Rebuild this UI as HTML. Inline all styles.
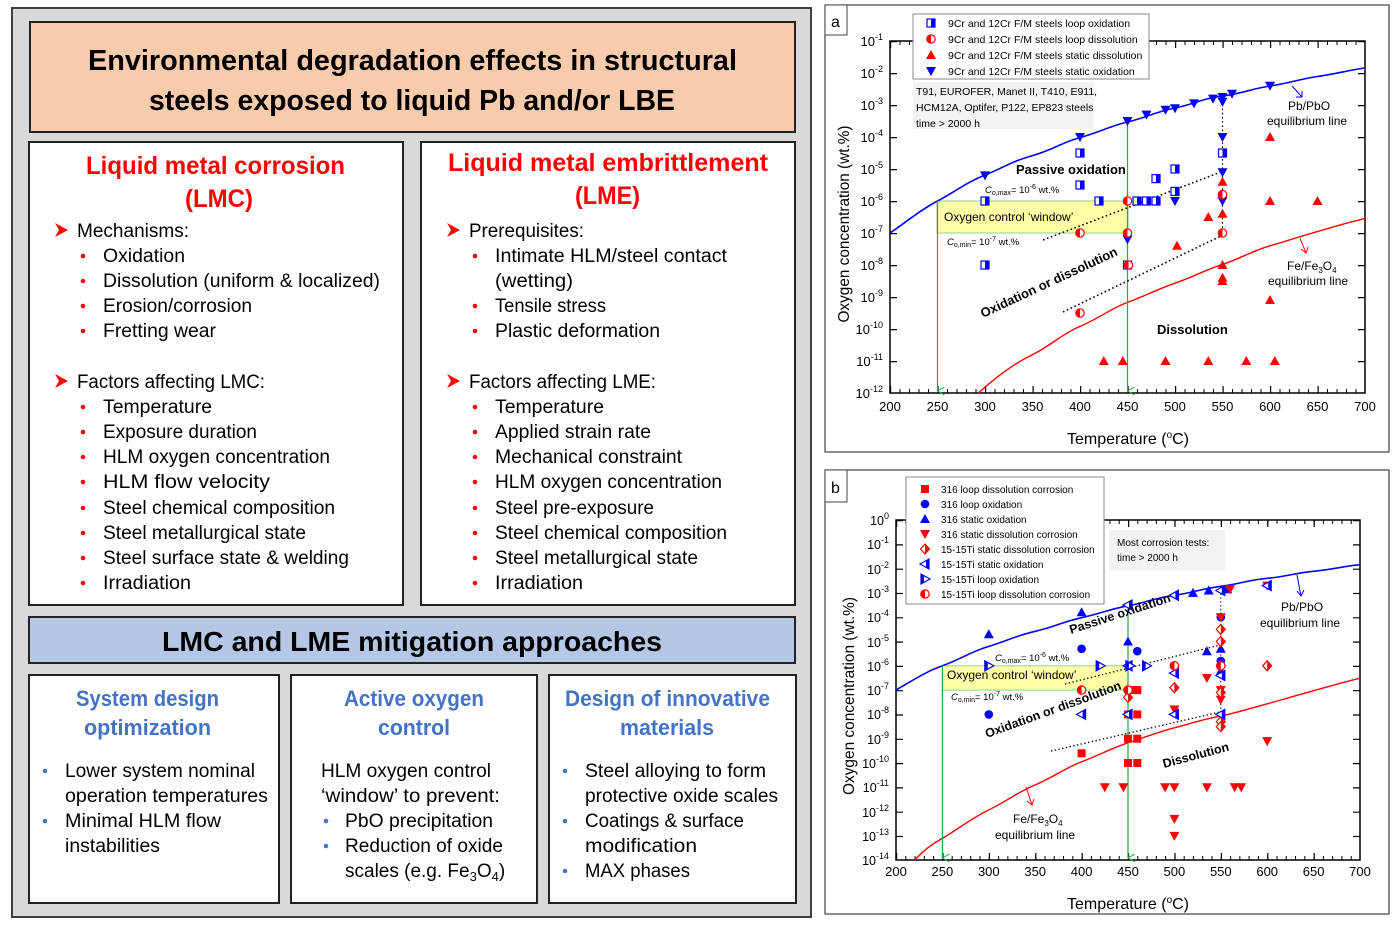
<!DOCTYPE html>
<html><head><meta charset="utf-8"><style>
html,body{margin:0;padding:0;background:#fff;}
svg{display:block;font-family:"Liberation Sans",sans-serif;}
</style></head><body>
<svg width="1393" height="927" viewBox="0 0 1393 927" xmlns="http://www.w3.org/2000/svg">
<defs>
<polygon id="tdnB" points="-5,-4 5,-4 0,5" fill="#0000ff"/>
<polygon id="tupR" points="-5,4 5,4 0,-5" fill="#ff0000"/>
<polygon id="tupB" points="-5,4 5,4 0,-5" fill="#0000ff"/>
<polygon id="tdnR" points="-5,-4 5,-4 0,5" fill="#ff0000"/>
<g id="hsq"><rect x="-4" y="-4" width="8" height="8" fill="#fff" stroke="#0000ff" stroke-width="1.2"/><rect x="0" y="-4" width="4" height="8" fill="#0000ff"/></g>
<g id="hci"><circle r="4.2" fill="#fff" stroke="#ff0000" stroke-width="1.2"/><path d="M0,-4.2 A4.2,4.2 0 0 0 0,4.2 Z" fill="#ff0000"/></g>
<circle id="ciB" r="4.3" fill="#0000ff"/>
<rect id="sqR" x="-4" y="-4" width="8" height="8" fill="#ff0000"/>
<g id="dia"><polygon points="0,-5 4.5,0 0,5 -4.5,0" fill="#fff" stroke="#ff0000" stroke-width="1.2"/><polygon points="0,-5 4.5,0 0,5" fill="#ff0000"/></g>
<g id="ltri"><polygon points="-5,0 4,-5 4,5" fill="#fff" stroke="#0000ff" stroke-width="1.2"/><polygon points="1,-3.3 4,-5 4,5 1,3.3" fill="#0000ff"/></g>
<g id="rtri"><polygon points="5,0 -4,-5 -4,5" fill="#fff" stroke="#0000ff" stroke-width="1.2"/><polygon points="-1,-3.3 -4,-5 -4,5 -1,3.3" fill="#0000ff"/></g>
<marker id="arG" markerWidth="8" markerHeight="8" refX="4" refY="7" orient="auto-start-reverse" markerUnits="userSpaceOnUse"><path d="M0,0 L4,7 L8,0" fill="none" stroke="#22aa44" stroke-width="1"/></marker>
</defs>

<!-- LEFT PANEL -->
<rect x="12" y="8" width="799" height="909" fill="#d9d9d9" stroke="#404040" stroke-width="2"/>
<rect x="30" y="22" width="765" height="110" fill="#f8cbad" stroke="#222" stroke-width="2"/>
<g font-weight="bold" font-size="29" fill="#000" text-anchor="start">
<text x="88" y="70" textLength="649" lengthAdjust="spacingAndGlyphs">Environmental degradation effects in structural</text>
<text x="149" y="110" textLength="526" lengthAdjust="spacingAndGlyphs">steels exposed to liquid Pb and/or LBE</text>
</g>
<rect x="29" y="142" width="374" height="463" fill="#fff" stroke="#222" stroke-width="2"/>
<rect x="421" y="142" width="374" height="463" fill="#fff" stroke="#222" stroke-width="2"/>
<g font-weight="bold" font-size="25" fill="#ff0000">
<text x="86" y="174" textLength="259" lengthAdjust="spacingAndGlyphs">Liquid metal corrosion</text>
<text x="185" y="207" textLength="68" lengthAdjust="spacingAndGlyphs">(LMC)</text>
<text x="448" y="171" textLength="320" lengthAdjust="spacingAndGlyphs">Liquid metal embrittlement</text>
<text x="575" y="204" textLength="65" lengthAdjust="spacingAndGlyphs">(LME)</text>
</g>
<g font-size="19" fill="#000">
<text x="77" y="237" textLength="112" lengthAdjust="spacingAndGlyphs">Mechanisms:</text>
<text x="103" y="262" textLength="82" lengthAdjust="spacingAndGlyphs">Oxidation</text>
<text x="103" y="287" textLength="277" lengthAdjust="spacingAndGlyphs">Dissolution (uniform &amp; localized)</text>
<text x="103" y="312" textLength="149" lengthAdjust="spacingAndGlyphs">Erosion/corrosion</text>
<text x="103" y="337" textLength="113" lengthAdjust="spacingAndGlyphs">Fretting wear</text>
<text x="77" y="388" textLength="188" lengthAdjust="spacingAndGlyphs">Factors affecting LMC:</text>
<text x="103" y="413" textLength="109" lengthAdjust="spacingAndGlyphs">Temperature</text>
<text x="103" y="438" textLength="154" lengthAdjust="spacingAndGlyphs">Exposure duration</text>
<text x="103" y="463" textLength="227" lengthAdjust="spacingAndGlyphs">HLM oxygen concentration</text>
<text x="103" y="488" textLength="167" lengthAdjust="spacingAndGlyphs">HLM flow velocity</text>
<text x="103" y="514" textLength="232" lengthAdjust="spacingAndGlyphs">Steel chemical composition</text>
<text x="103" y="539" textLength="203" lengthAdjust="spacingAndGlyphs">Steel metallurgical state</text>
<text x="103" y="564" textLength="246" lengthAdjust="spacingAndGlyphs">Steel surface state &amp; welding</text>
<text x="103" y="589" textLength="88" lengthAdjust="spacingAndGlyphs">Irradiation</text>

<text x="469" y="237" textLength="115" lengthAdjust="spacingAndGlyphs">Prerequisites:</text>
<text x="495" y="262" textLength="232" lengthAdjust="spacingAndGlyphs">Intimate HLM/steel contact</text>
<text x="495" y="287" textLength="78" lengthAdjust="spacingAndGlyphs">(wetting)</text>
<text x="495" y="312" textLength="111" lengthAdjust="spacingAndGlyphs">Tensile stress</text>
<text x="495" y="337" textLength="165" lengthAdjust="spacingAndGlyphs">Plastic deformation</text>
<text x="469" y="388" textLength="187" lengthAdjust="spacingAndGlyphs">Factors affecting LME:</text>
<text x="495" y="413" textLength="109" lengthAdjust="spacingAndGlyphs">Temperature</text>
<text x="495" y="438" textLength="156" lengthAdjust="spacingAndGlyphs">Applied strain rate</text>
<text x="495" y="463" textLength="187" lengthAdjust="spacingAndGlyphs">Mechanical constraint</text>
<text x="495" y="488" textLength="227" lengthAdjust="spacingAndGlyphs">HLM oxygen concentration</text>
<text x="495" y="514" textLength="159" lengthAdjust="spacingAndGlyphs">Steel pre-exposure</text>
<text x="495" y="539" textLength="232" lengthAdjust="spacingAndGlyphs">Steel chemical composition</text>
<text x="495" y="564" textLength="203" lengthAdjust="spacingAndGlyphs">Steel metallurgical state</text>
<text x="495" y="589" textLength="88" lengthAdjust="spacingAndGlyphs">Irradiation</text>
</g>
<g fill="#ff0000">
<polygon points="55,223 68,230 55,237 59,230"/>
<polygon points="55,374 68,381 55,388 59,381"/>
<polygon points="447,223 460,230 447,237 451,230"/>
<polygon points="447,374 460,381 447,388 451,381"/>
<circle cx="83" cy="256" r="2.3"/><circle cx="83" cy="281" r="2.3"/><circle cx="83" cy="306" r="2.3"/><circle cx="83" cy="331" r="2.3"/>
<circle cx="83" cy="407" r="2.3"/><circle cx="83" cy="432" r="2.3"/><circle cx="83" cy="457" r="2.3"/><circle cx="83" cy="482" r="2.3"/><circle cx="83" cy="508" r="2.3"/><circle cx="83" cy="533" r="2.3"/><circle cx="83" cy="558" r="2.3"/><circle cx="83" cy="583" r="2.3"/>
<circle cx="475" cy="256" r="2.3"/><circle cx="475" cy="306" r="2.3"/><circle cx="475" cy="331" r="2.3"/>
<circle cx="475" cy="407" r="2.3"/><circle cx="475" cy="432" r="2.3"/><circle cx="475" cy="457" r="2.3"/><circle cx="475" cy="482" r="2.3"/><circle cx="475" cy="508" r="2.3"/><circle cx="475" cy="533" r="2.3"/><circle cx="475" cy="558" r="2.3"/><circle cx="475" cy="583" r="2.3"/>
</g>
<rect x="29" y="617" width="766" height="46" fill="#b4c7e7" stroke="#222" stroke-width="2"/>
<text x="162" y="651" font-weight="bold" font-size="28" textLength="500" lengthAdjust="spacingAndGlyphs">LMC and LME mitigation approaches</text>
<rect x="29" y="675" width="250" height="228" fill="#fff" stroke="#222" stroke-width="2"/>
<rect x="291" y="675" width="246" height="228" fill="#fff" stroke="#222" stroke-width="2"/>
<rect x="549" y="675" width="247" height="228" fill="#fff" stroke="#222" stroke-width="2"/>
<g font-weight="bold" font-size="22" fill="#4472c4">
<text x="76" y="706" textLength="143" lengthAdjust="spacingAndGlyphs">System design</text>
<text x="84" y="735" textLength="127" lengthAdjust="spacingAndGlyphs">optimization</text>
<text x="344" y="706" textLength="140" lengthAdjust="spacingAndGlyphs">Active oxygen</text>
<text x="378" y="735" textLength="72" lengthAdjust="spacingAndGlyphs">control</text>
<text x="565" y="706" textLength="205" lengthAdjust="spacingAndGlyphs">Design of innovative</text>
<text x="620" y="735" textLength="94" lengthAdjust="spacingAndGlyphs">materials</text>
</g>
<g font-size="19" fill="#000">
<text x="65" y="777" textLength="190" lengthAdjust="spacingAndGlyphs">Lower system nominal</text>
<text x="65" y="802" textLength="203" lengthAdjust="spacingAndGlyphs">operation temperatures</text>
<text x="65" y="827" textLength="156" lengthAdjust="spacingAndGlyphs">Minimal HLM flow</text>
<text x="65" y="852" textLength="95" lengthAdjust="spacingAndGlyphs">instabilities</text>
<text x="321" y="777" textLength="170" lengthAdjust="spacingAndGlyphs">HLM oxygen control</text>
<text x="321" y="802" textLength="179" lengthAdjust="spacingAndGlyphs">‘window’ to prevent:</text>
<text x="345" y="827" textLength="148" lengthAdjust="spacingAndGlyphs">PbO precipitation</text>
<text x="345" y="852" textLength="158" lengthAdjust="spacingAndGlyphs">Reduction of oxide</text>
<text x="345" y="877">scales (e.g. Fe<tspan font-size="13" dy="4">3</tspan><tspan dy="-4">O</tspan><tspan font-size="13" dy="4">4</tspan><tspan dy="-4">)</tspan></text>
<text x="585" y="777" textLength="181" lengthAdjust="spacingAndGlyphs">Steel alloying to form</text>
<text x="585" y="802" textLength="193" lengthAdjust="spacingAndGlyphs">protective oxide scales</text>
<text x="585" y="827" textLength="159" lengthAdjust="spacingAndGlyphs">Coatings &amp; surface</text>
<text x="585" y="852" textLength="112" lengthAdjust="spacingAndGlyphs">modification</text>
<text x="585" y="877" textLength="105" lengthAdjust="spacingAndGlyphs">MAX phases</text>
</g>
<g fill="#4472c4">
<circle cx="45" cy="771" r="2.3"/><circle cx="45" cy="821" r="2.3"/>
<circle cx="326" cy="821" r="2.3"/><circle cx="326" cy="846" r="2.3"/>
<circle cx="565" cy="771" r="2.3"/><circle cx="565" cy="821" r="2.3"/><circle cx="565" cy="871" r="2.3"/>
</g>

<!-- CHART A -->
<rect x="825" y="5" width="564" height="447" fill="#fff" stroke="#444" stroke-width="1.2"/>
<rect x="825" y="5" width="22" height="30" fill="#fff" stroke="#444" stroke-width="1"/>
<text x="831" y="27" font-size="16">a</text>
<rect x="937" y="201" width="191" height="32" fill="#ffffa8" stroke="#8fd18f" stroke-width="1"/>
<rect x="890" y="41" width="475" height="352" fill="none" stroke="#000" stroke-width="1.5"/>
<g stroke="#000" fill="none">
<line x1="890" y1="389.5" x2="1365" y2="389.5" stroke-width="7" stroke-dasharray="1.2 46.3"/>
<line x1="890" y1="391" x2="1365" y2="391" stroke-width="4" stroke-dasharray="1 8.5"/>
<line x1="890" y1="44.5" x2="1365" y2="44.5" stroke-width="7" stroke-dasharray="1.2 46.3"/>
<line x1="890" y1="43" x2="1365" y2="43" stroke-width="4" stroke-dasharray="1 8.5"/>
<line x1="893.5" y1="41" x2="893.5" y2="393" stroke-width="7" stroke-dasharray="1.2 30.8"/>
<line x1="1361.5" y1="41" x2="1361.5" y2="393" stroke-width="7" stroke-dasharray="1.2 30.8"/>
</g>
<g font-size="13" text-anchor="middle">
<text x="890" y="411">200</text><text x="937.5" y="411">250</text><text x="985" y="411">300</text><text x="1032.5" y="411">350</text><text x="1080" y="411">400</text><text x="1127.5" y="411">450</text><text x="1175" y="411">500</text><text x="1222.5" y="411">550</text><text x="1270" y="411">600</text><text x="1317.5" y="411">650</text><text x="1365" y="411">700</text>
</g>
<g font-size="13" text-anchor="end">
<text x="883" y="46">10<tspan dy="-6" font-size="9">-1</tspan></text>
<text x="883" y="78">10<tspan dy="-6" font-size="9">-2</tspan></text>
<text x="883" y="110">10<tspan dy="-6" font-size="9">-3</tspan></text>
<text x="883" y="142">10<tspan dy="-6" font-size="9">-4</tspan></text>
<text x="883" y="174">10<tspan dy="-6" font-size="9">-5</tspan></text>
<text x="883" y="206">10<tspan dy="-6" font-size="9">-6</tspan></text>
<text x="883" y="238">10<tspan dy="-6" font-size="9">-7</tspan></text>
<text x="883" y="270">10<tspan dy="-6" font-size="9">-8</tspan></text>
<text x="883" y="302">10<tspan dy="-6" font-size="9">-9</tspan></text>
<text x="883" y="334">10<tspan dy="-6" font-size="9">-10</tspan></text>
<text x="883" y="366">10<tspan dy="-6" font-size="9">-11</tspan></text>
<text x="883" y="398">10<tspan dy="-6" font-size="9">-12</tspan></text>
</g>
<text x="1128" y="444" font-size="16" text-anchor="middle">Temperature (<tspan dy="-6" font-size="10">o</tspan><tspan dy="6">C)</tspan></text>
<text transform="translate(849,224) rotate(-90)" font-size="16" text-anchor="middle" textLength="197" lengthAdjust="spacingAndGlyphs">Oxygen concentration (wt.%)</text>
<path d="M890,233 C905,223 920,210 937.5,201 S965,183 985,175 S1010,162 1032.5,155.6 S1060,143 1080,137.6 S1110,126 1127.5,122 S1155,112 1175,108 S1200,99 1222.5,96 S1250,89 1270,86 S1300,79 1317.5,76.5 S1350,70 1365,68" fill="none" stroke="#0000ff" stroke-width="1.6"/>
<path d="M978.4,393 C995,378 1015,363 1032.5,354.6 S1062,334 1080,326.4 S1112,308 1127.5,302.4 S1158,289 1175,283.2 S1205,270 1222.5,264.4 S1252,251 1270,245.8 S1340,224 1365,218.6" fill="none" stroke="#ff0000" stroke-width="1.4"/>
<line x1="937.5" y1="201" x2="937.5" y2="391" stroke="#22aa44" stroke-width="1.2" marker-end="url(#arG)"/>
<line x1="1127.5" y1="122" x2="1127.5" y2="391" stroke="#22aa44" stroke-width="1.2" marker-end="url(#arG)"/>
<g stroke="#000" stroke-width="1.6" stroke-dasharray="1.6 2.6" fill="none">
<line x1="1043" y1="240" x2="1221" y2="172"/>
<line x1="1063" y1="312" x2="1221" y2="236"/>
<line x1="1222.5" y1="96" x2="1222.5" y2="236" stroke-width="1.2"/>
</g>
<use href="#tdnB" x="985" y="175.4"/><use href="#tdnB" x="1080" y="137"/><use href="#tdnB" x="1127.5" y="121"/><use href="#tdnB" x="1146.5" y="114.6"/><use href="#tdnB" x="1165.5" y="109.8"/><use href="#tdnB" x="1175" y="108.2"/><use href="#tdnB" x="1194" y="103.4"/><use href="#tdnB" x="1213" y="98.6"/><use href="#tdnB" x="1222.5" y="97"/><use href="#tdnB" x="1232" y="93.8"/><use href="#tdnB" x="1270" y="85.8"/><use href="#tdnB" x="1222.5" y="101.8"/><use href="#tdnB" x="1222.5" y="137"/><use href="#tdnB" x="1222.5" y="172.2"/><use href="#tdnB" x="1222.5" y="201"/><use href="#tdnB" x="1127.5" y="239.4"/><use href="#tdnB" x="1175" y="201"/>
<use href="#hsq" x="985" y="201"/><use href="#hsq" x="985" y="265"/><use href="#hsq" x="1080" y="153"/><use href="#hsq" x="1080" y="185"/><use href="#hsq" x="1099" y="201"/><use href="#hsq" x="1127.5" y="265"/><use href="#hsq" x="1137" y="201"/><use href="#hsq" x="1146.5" y="201"/><use href="#hsq" x="1156" y="201"/><use href="#hsq" x="1156" y="178.6"/><use href="#hsq" x="1175" y="169"/><use href="#hsq" x="1175" y="191.4"/><use href="#hsq" x="1222.5" y="153"/>
<use href="#hci" x="1080" y="233"/><use href="#hci" x="1127.5" y="201"/><use href="#hci" x="1127.5" y="233"/><use href="#hci" x="1128.5" y="265"/><use href="#hci" x="1080" y="313"/><use href="#hci" x="1222.5" y="194.6"/><use href="#hci" x="1222.5" y="233"/>
<use href="#tupR" x="1222.5" y="181.8"/><use href="#tupR" x="1222.5" y="213.8"/><use href="#tupR" x="1208.3" y="217"/><use href="#tupR" x="1177" y="245.8"/><use href="#tupR" x="1222.5" y="265"/><use href="#tupR" x="1222.5" y="277.8"/><use href="#tupR" x="1222.5" y="281"/><use href="#tupR" x="1270" y="137"/><use href="#tupR" x="1270" y="201"/><use href="#tupR" x="1317.5" y="201"/><use href="#tupR" x="1270" y="300"/>
<use href="#tupR" x="1103.8" y="361"/><use href="#tupR" x="1122.8" y="361"/><use href="#tupR" x="1165.5" y="361"/><use href="#tupR" x="1208.3" y="361"/><use href="#tupR" x="1246.3" y="361"/><use href="#tupR" x="1274.8" y="361"/>
<text x="1016" y="174" font-size="13" font-weight="bold">Passive oxidation</text>
<text x="985" y="193" font-size="9.5"><tspan font-style="italic">C</tspan><tspan font-size="7" dy="2">o,max</tspan><tspan dy="-2">= 10</tspan><tspan font-size="7" dy="-4">-6</tspan><tspan dy="4"> wt.%</tspan></text>
<text x="944" y="221" font-size="12">Oxygen control ‘window’</text>
<text x="947" y="245" font-size="9.5"><tspan font-style="italic">C</tspan><tspan font-size="7" dy="2">o,min</tspan><tspan dy="-2">= 10</tspan><tspan font-size="7" dy="-4">-7</tspan><tspan dy="4"> wt.%</tspan></text>
<text transform="translate(983,318) rotate(-25)" font-size="13" font-weight="bold">Oxidation or dissolution</text>
<text x="1157" y="334" font-size="13" font-weight="bold">Dissolution</text>
<text x="1288" y="110" font-size="12">Pb/PbO</text>
<text x="1267" y="125" font-size="12">equilibrium line</text>
<text x="1287" y="270" font-size="12">Fe/Fe<tspan font-size="8" dy="3">3</tspan><tspan dy="-3">O</tspan><tspan font-size="8" dy="3">4</tspan></text>
<text x="1268" y="285" font-size="12">equilibrium line</text>
<path d="M1292,86 L1302,97 M1296,97 L1302,97 L1302,91" stroke="#0000ff" fill="none" stroke-width="1"/>
<path d="M1300,238 L1306,253 M1301,249 L1306,253 L1308,247" stroke="#ff0000" fill="none" stroke-width="1"/>
<rect x="913" y="14" width="236" height="65" fill="#fff" stroke="#888" stroke-width="1"/>
<g font-size="10.5">
<text x="948" y="27">9Cr and 12Cr F/M steels loop oxidation</text>
<text x="948" y="43">9Cr and 12Cr F/M steels loop dissolution</text>
<text x="948" y="59">9Cr and 12Cr F/M steels static dissolution</text>
<text x="948" y="75">9Cr and 12Cr F/M steels static oxidation</text>
</g>
<use href="#hsq" x="931" y="23"/><use href="#hci" x="931" y="39"/><use href="#tupR" x="931" y="55"/><use href="#tdnB" x="931" y="71"/>
<rect x="913" y="82" width="181" height="47" fill="#f2f2f2"/>
<g font-size="10.5">
<text x="916" y="95">T91, EUROFER, Manet II, T410, E911,</text>
<text x="916" y="111">HCM12A, Optifer, P122, EP823 steels</text>
<text x="916" y="127">time &gt; 2000 h</text>
</g>

<!-- CHART B -->
<rect x="825" y="470" width="564" height="444" fill="#fff" stroke="#444" stroke-width="1.2"/>
<rect x="825" y="470" width="22" height="32" fill="#fff" stroke="#444" stroke-width="1"/>
<text x="831" y="493" font-size="16">b</text>
<rect x="942.4" y="665.8" width="185.6" height="24.3" fill="#ffffa8" stroke="#8fd18f" stroke-width="1"/>
<rect x="896" y="520" width="464" height="340" fill="none" stroke="#000" stroke-width="1.5"/>
<g stroke="#000" fill="none">
<line x1="896" y1="856.5" x2="1360" y2="856.5" stroke-width="7" stroke-dasharray="1.2 45.2"/>
<line x1="896" y1="858" x2="1360" y2="858" stroke-width="4" stroke-dasharray="1 8.28"/>
<line x1="896" y1="523.5" x2="1360" y2="523.5" stroke-width="7" stroke-dasharray="1.2 45.2"/>
<line x1="896" y1="522" x2="1360" y2="522" stroke-width="4" stroke-dasharray="1 8.28"/>
<line x1="899.5" y1="520" x2="899.5" y2="860" stroke-width="7" stroke-dasharray="1.2 23.1"/>
<line x1="1356.5" y1="520" x2="1356.5" y2="860" stroke-width="7" stroke-dasharray="1.2 23.1"/>
</g>
<g font-size="13" text-anchor="middle">
<text x="896" y="876">200</text><text x="942.4" y="876">250</text><text x="988.8" y="876">300</text><text x="1035.2" y="876">350</text><text x="1081.6" y="876">400</text><text x="1128" y="876">450</text><text x="1174.4" y="876">500</text><text x="1220.8" y="876">550</text><text x="1267.2" y="876">600</text><text x="1313.6" y="876">650</text><text x="1360" y="876">700</text>
</g>
<g font-size="12.5" text-anchor="end">
<text x="889" y="525">10<tspan dy="-6" font-size="9">0</tspan></text>
<text x="889" y="549">10<tspan dy="-6" font-size="9">-1</tspan></text>
<text x="889" y="574">10<tspan dy="-6" font-size="9">-2</tspan></text>
<text x="889" y="598">10<tspan dy="-6" font-size="9">-3</tspan></text>
<text x="889" y="622">10<tspan dy="-6" font-size="9">-4</tspan></text>
<text x="889" y="647">10<tspan dy="-6" font-size="9">-5</tspan></text>
<text x="889" y="671">10<tspan dy="-6" font-size="9">-6</tspan></text>
<text x="889" y="695">10<tspan dy="-6" font-size="9">-7</tspan></text>
<text x="889" y="719">10<tspan dy="-6" font-size="9">-8</tspan></text>
<text x="889" y="744">10<tspan dy="-6" font-size="9">-9</tspan></text>
<text x="889" y="768">10<tspan dy="-6" font-size="9">-10</tspan></text>
<text x="889" y="792">10<tspan dy="-6" font-size="9">-11</tspan></text>
<text x="889" y="817">10<tspan dy="-6" font-size="9">-12</tspan></text>
<text x="889" y="841">10<tspan dy="-6" font-size="9">-13</tspan></text>
<text x="889" y="865">10<tspan dy="-6" font-size="9">-14</tspan></text>
</g>
<text x="1128" y="909" font-size="16" text-anchor="middle">Temperature (<tspan dy="-6" font-size="10">o</tspan><tspan dy="6">C)</tspan></text>
<text transform="translate(854,696) rotate(-90)" font-size="16" text-anchor="middle" textLength="198" lengthAdjust="spacingAndGlyphs">Oxygen concentration (wt.%)</text>
<path d="M896,690 C910,682 925,672 942.4,665.8 S970,652 988.8,646.4 S1015,636 1035.2,631.3 S1062,622 1081.6,617.7 S1110,609 1128,605.8 S1155,598 1174.4,595.3 S1200,589 1220.8,586.3 S1248,580 1267.2,578.3 S1295,573 1313.6,571.3 S1345,566 1360,564.7" fill="none" stroke="#0000ff" stroke-width="1.6"/>
<path d="M914.6,860 C922,852 932,844 942.4,838.3 S972,818 988.8,809.9 S1018,792 1035.2,784.9 S1065,768 1081.6,761.8 S1112,748 1128,742.8 S1158,732 1174.4,727.8 S1204,719 1220.8,716.1 S1320,688 1360,678.2" fill="none" stroke="#ff0000" stroke-width="1.4"/>
<line x1="942.4" y1="665.8" x2="942.4" y2="858" stroke="#22aa44" stroke-width="1.2" marker-end="url(#arG)"/>
<line x1="1128" y1="605.8" x2="1128" y2="858" stroke="#22aa44" stroke-width="1.2" marker-end="url(#arG)"/>
<g stroke="#000" stroke-width="1.3" stroke-dasharray="1.4 2.4" fill="none">
<line x1="1065" y1="684" x2="1220" y2="645"/>
<line x1="1051" y1="751" x2="1220" y2="712"/>
<line x1="1220.8" y1="586" x2="1220.8" y2="716" stroke-width="1"/>
</g>
<use href="#tupB" x="988.8" y="634.2"/><use href="#tupB" x="1081.6" y="612.3"/><use href="#tupB" x="1128" y="641.5"/><use href="#tupB" x="1193" y="592.9"/><use href="#tupB" x="1208.7" y="590.5"/><use href="#tupB" x="1227.3" y="589.3"/><use href="#tupB" x="1220.8" y="648.8"/><use href="#tupB" x="1206.9" y="651.2"/><use href="#tupB" x="1220.8" y="670.7"/>
<use href="#ciB" x="988.8" y="714.4"/><use href="#ciB" x="1081.6" y="648.8"/><use href="#ciB" x="1137.3" y="651.2"/><use href="#ciB" x="1220.8" y="617.2"/><use href="#ciB" x="1220.8" y="660.9"/>
<use href="#sqR" x="1081.6" y="753.3"/><use href="#sqR" x="1128" y="738.7"/><use href="#sqR" x="1137.3" y="738.7"/><use href="#sqR" x="1128" y="714.4"/><use href="#sqR" x="1137.3" y="714.4"/><use href="#sqR" x="1132.6" y="690.1"/><use href="#sqR" x="1137.3" y="690.1"/><use href="#sqR" x="1128" y="763"/><use href="#sqR" x="1137.3" y="763"/>
<use href="#tdnR" x="1104.8" y="787.3"/><use href="#tdnR" x="1123.4" y="787.3"/><use href="#tdnR" x="1165.1" y="787.3"/><use href="#tdnR" x="1174.4" y="787.3"/><use href="#tdnR" x="1206.9" y="787.3"/><use href="#tdnR" x="1234.7" y="787.3"/><use href="#tdnR" x="1241.2" y="787.3"/><use href="#tdnR" x="1174.4" y="818.9"/><use href="#tdnR" x="1174.4" y="835.9"/><use href="#tdnR" x="1220.8" y="617.2"/><use href="#tdnR" x="1220.8" y="690.1"/><use href="#tdnR" x="1220.8" y="699.8"/><use href="#tdnR" x="1206.9" y="678"/><use href="#tdnR" x="1174.4" y="709.5"/><use href="#tdnR" x="1267.2" y="741.1"/><use href="#tdnR" x="1267.2" y="585.6"/><use href="#tdnR" x="1230" y="589.3"/>
<use href="#dia" x="1220.8" y="629.4"/><use href="#dia" x="1220.8" y="641.5"/><use href="#dia" x="1220.8" y="665.8"/><use href="#dia" x="1267.2" y="665.8"/><use href="#dia" x="1174.4" y="687.7"/><use href="#dia" x="1128" y="697.4"/><use href="#dia" x="1220.8" y="721.7"/><use href="#dia" x="1220.8" y="726.6"/><use href="#dia" x="1220.8" y="692.5"/>
<use href="#ltri" x="1128" y="605"/><use href="#ltri" x="1174.4" y="595.3"/><use href="#ltri" x="1220.8" y="590.5"/><use href="#ltri" x="1267.2" y="585.6"/><use href="#ltri" x="1081.6" y="714.4"/><use href="#ltri" x="1128" y="714.4"/><use href="#ltri" x="1174.4" y="714.4"/><use href="#ltri" x="1174.4" y="673.1"/><use href="#ltri" x="1220.8" y="714.4"/><use href="#ltri" x="1220.8" y="675.5"/><use href="#ltri" x="1128" y="665.8"/>
<use href="#rtri" x="988.8" y="665.8"/><use href="#rtri" x="1100.2" y="665.8"/><use href="#rtri" x="1146.6" y="665.8"/><use href="#rtri" x="1129.9" y="665.8"/>
<use href="#hci" x="1081.6" y="690.1"/><use href="#hci" x="1128" y="690.1"/><use href="#hci" x="1174.4" y="665.8"/><use href="#hci" x="1220.8" y="665.8"/>
<text transform="translate(1071,634) rotate(-18)" font-size="12.5" font-weight="bold">Passive oxidation</text>
<text x="995" y="661" font-size="9.5"><tspan font-style="italic">C</tspan><tspan font-size="7" dy="2">o,max</tspan><tspan dy="-2">= 10</tspan><tspan font-size="7" dy="-4">-6</tspan><tspan dy="4"> wt.%</tspan></text>
<text x="947" y="679" font-size="12">Oxygen control ‘window’</text>
<text x="951" y="700" font-size="9.5"><tspan font-style="italic">C</tspan><tspan font-size="7" dy="2">o,min</tspan><tspan dy="-2">= 10</tspan><tspan font-size="7" dy="-4">-7</tspan><tspan dy="4"> wt.%</tspan></text>
<text transform="translate(987,738) rotate(-20)" font-size="12.5" font-weight="bold">Oxidation or dissolution</text>
<text transform="translate(1164,768) rotate(-15)" font-size="12.5" font-weight="bold">Dissolution</text>
<text x="1281" y="611" font-size="12">Pb/PbO</text>
<text x="1260" y="627" font-size="12">equilibrium line</text>
<text x="1013" y="823" font-size="12">Fe/Fe<tspan font-size="8" dy="3">3</tspan><tspan dy="-3">O</tspan><tspan font-size="8" dy="3">4</tspan></text>
<text x="995" y="839" font-size="12">equilibrium line</text>
<path d="M1297,575 L1301,596 M1297,591 L1301,596 L1304,590" stroke="#0000ff" fill="none" stroke-width="1"/>
<path d="M1026,787 L1032,805 M1027,801 L1032,805 L1034,799" stroke="#ff0000" fill="none" stroke-width="1"/>
<rect x="906" y="477" width="198" height="127" fill="#fff" stroke="#888" stroke-width="1"/>
<g font-size="10">
<text x="941" y="493">316 loop dissolution corrosion</text>
<text x="941" y="508">316 loop oxidation</text>
<text x="941" y="523">316 static oxidation</text>
<text x="941" y="538">316 static dissolution corrosion</text>
<text x="941" y="553">15-15Ti static dissolution corrosion</text>
<text x="941" y="568">15-15Ti static oxidation</text>
<text x="941" y="583">15-15Ti loop oxidation</text>
<text x="941" y="598">15-15Ti loop dissolution corrosion</text>
</g>
<use href="#sqR" x="925" y="489"/><use href="#ciB" x="925" y="504"/><use href="#tupB" x="925" y="519"/><use href="#tdnR" x="925" y="534"/><use href="#dia" x="925" y="549"/><use href="#ltri" x="925" y="564"/><use href="#rtri" x="925" y="579"/><use href="#hci" x="925" y="594"/>
<rect x="1109" y="530" width="116" height="40" fill="#f2f2f2"/>
<g font-size="10">
<text x="1117" y="546">Most corrosion tests:</text>
<text x="1117" y="561">time &gt; 2000 h</text>
</g>
</svg>
</body></html>
